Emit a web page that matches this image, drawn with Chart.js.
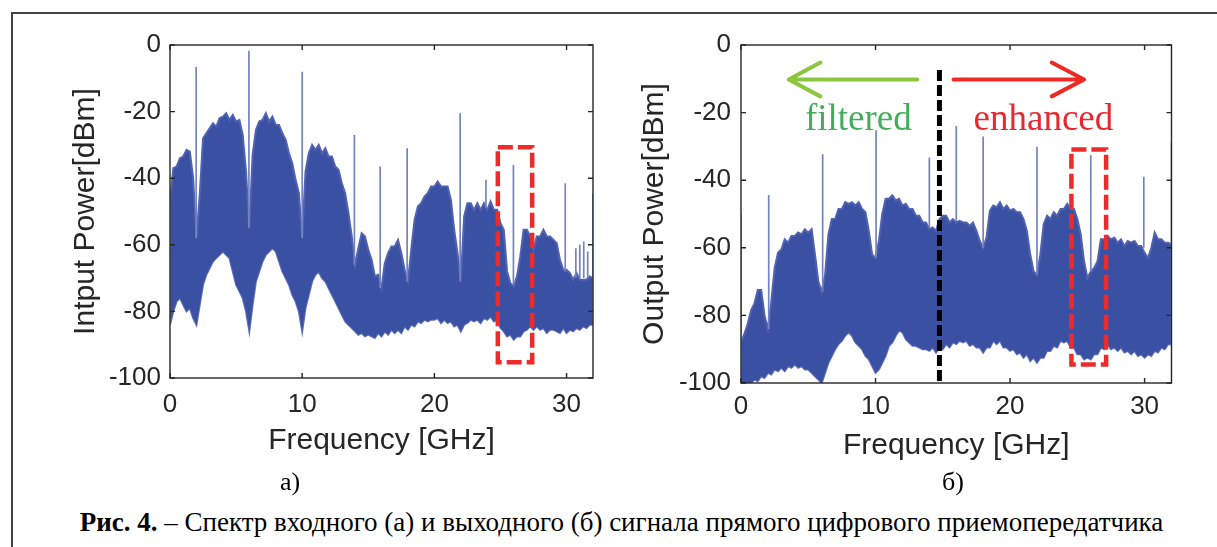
<!DOCTYPE html>
<html>
<head>
<meta charset="utf-8">
<script src="https://cdn.jsdelivr.net/npm/chart.js@4.4.0/dist/chart.umd.min.js"></script>
<style>
  body { margin:0; background:#fff; width:1217px; height:547px; overflow:hidden; position:relative; font-family:'Liberation Serif','Times New Roman',serif; }
  #frame { position:absolute; left:11px; top:12px; width:1300px; height:600px; border-left:2px solid #444; border-top:2px solid #444; }
  #c1 { position:absolute; left:0; top:0; }
  #c2 { position:absolute; left:610px; top:0; }
  .lab { position:absolute; width:100px; text-align:center; font-size:26px; line-height:26px; top:469px; color:#000; }
  #cap { position:absolute; left:0; width:1243px; top:509px; text-align:center; font-size:27px; line-height:26px; color:#000; white-space:nowrap; }
</style>
</head>
<body>
<div id="frame"></div>
<canvas id="c1" width="610" height="470"></canvas>
<canvas id="c2" width="607" height="470"></canvas>
<div class="lab" style="left:240px">а)</div>
<div class="lab" style="left:903px">б)</div>
<div id="cap"><b>Рис. 4.</b> – Спектр входного (а) и выходного (б) сигнала прямого цифрового приемопередатчика</div>
<script>
const freq = [
  0,0.25,0.5,0.75,1,1.25,1.5,1.75,
  2,2.25,2.5,2.75,3,3.25,3.5,3.75,
  4,4.25,4.5,4.75,5,5.25,5.5,5.75,
  6,6.25,6.5,6.75,7,7.25,7.5,7.75,
  8,8.25,8.5,8.75,9,9.25,9.5,9.75,
  10,10.25,10.5,10.75,11,11.25,11.5,11.75,
  12,12.25,12.5,12.75,13,13.25,13.5,13.75,
  14,14.25,14.5,14.75,15,15.25,15.5,15.75,
  16,16.25,16.5,16.75,17,17.25,17.5,17.75,
  18,18.25,18.5,18.75,19,19.25,19.5,19.75,
  20,20.25,20.5,20.75,21,21.25,21.5,21.75,
  22,22.25,22.5,22.75,23,23.25,23.5,23.75,
  24,24.25,24.5,24.75,25,25.25,25.5,25.75,
  26,26.25,26.5,26.75,27,27.25,27.5,27.75,
  28,28.25,28.5,28.75,29,29.25,29.5,29.75,
  30,30.25,30.5,30.75,31,31.25,31.5,31.75,
  32
];

// входной сигнал (а): верхняя и нижняя огибающие, dBm
const inUpper = [
  -47,-37,-36.5,-34,-33.5,-31.5,-32,-40,
  -58,-45,-28,-26.5,-25,-23.5,-24.5,-22,
  -21.5,-20.5,-22.5,-21,-23,-22.5,-27,-38,
  -55,-33,-25.5,-23,-22.5,-20.5,-23,-21.5,
  -24,-24,-26.5,-28.5,-32.5,-35.5,-40.5,-44.5,
  -58,-38,-32.5,-30,-31.5,-30,-32.5,-31,
  -33.5,-33.5,-36.5,-37.5,-41.5,-44.5,-50.5,-57.5,
  -66,-61,-56.5,-57.5,-61.5,-64.5,-69.5,-69,
  -73,-65.5,-62.5,-60.5,-60.5,-58.5,-62.5,-67.5,
  -71,-61.5,-52.5,-48.5,-47.5,-45.5,-44.5,-42.5,
  -42.5,-41,-42.5,-42.5,-42.5,-46.5,-55.5,-62.5,
  -71,-51.5,-47.5,-47.5,-49.5,-47.5,-49.5,-47.5,
  -49.5,-47,-49.5,-49.5,-53.5,-55.5,-68,-71.5,
  -72.5,-69.5,-63.5,-55.5,-55.5,-57.5,-61.5,-57.5,
  -57.5,-55.5,-57.5,-57.5,-58.5,-59.5,-64.5,-67.5,
  -67.5,-68.5,-70.5,-68.5,-70.5,-70.5,-70.5,-69.5,
  -70
];
const inLower = [
  -84,-80,-77,-76,-78,-80,-79,-82,
  -84,-78,-72,-69,-67,-65,-64,-63,
  -62,-63,-64,-68,-72,-74,-76,-80,
  -86,-78,-71,-68,-65,-63,-62,-61,
  -62,-65,-68,-70,-72,-75,-77,-80,
  -86,-79,-75,-71,-69,-68,-70,-71,
  -73,-75,-77,-79,-81,-83,-84,-85,
  -86,-87,-86.5,-87.5,-87,-87.5,-88,-86.5,
  -87.5,-86,-87,-85.5,-86.5,-85.5,-86.5,-84.5,
  -85.5,-84,-84.5,-83,-83.5,-82.5,-83,-82.5,
  -82.5,-82,-83.5,-82.5,-83.5,-83,-84.5,-84,
  -86,-84,-83.5,-82.5,-83,-82.5,-83.5,-82,
  -82.5,-81.5,-83,-82.5,-85,-86,-87.5,-87,
  -88.5,-87.5,-87.5,-86,-85.5,-84.5,-85.5,-84.5,
  -85.5,-85,-86.5,-85.5,-85.5,-86,-86.5,-85,
  -86.5,-85.5,-86,-85,-85.5,-84.5,-85,-84,
  -84
];
const inSpikeFreq = [0, 1.98, 5.97, 10.0, 13.95, 15.9, 17.94, 21.95, 23.9, 25.98, 29.9, 30.7, 31.0, 31.3, 31.6, 32];
const inSpikeTop  = [-47, -6.6, -1.7, -8, -27, -36.5, -31, -20.5, -40.5, -36, -41.5, -61, -60, -59, -62, -44.5];
const inSpikeBase = [-84, -58, -55, -58, -66, -73, -71, -71, -49, -72, -68, -70, -70, -70, -70, -84];
const inBoxFreq = [24.8, 27.4, 27.4, 24.8, 24.8];
const inBoxDb   = [-30.7, -30.7, -95.3, -95.3, -30.7];

// выходной сигнал (б)
const outUpper = [
  -88,-85.5,-82.5,-78.5,-76.5,-72.5,-72.5,-80,
  -84,-76,-66,-61.5,-60.5,-57.5,-58.5,-56.5,
  -56.5,-55.5,-56,-54.5,-55.5,-54.5,-62,-70,
  -73,-68,-56,-51.5,-51.5,-48.5,-48.5,-46.5,
  -47,-46.5,-47.5,-46.5,-48.5,-49.5,-55,-62,
  -63,-58,-50,-45.5,-45.5,-44.5,-46,-45.5,
  -47.5,-47,-48.5,-48.5,-50.5,-50.5,-52.5,-52.5,
  -54.5,-54,-55,-51.5,-50.5,-50.5,-52.5,-51.5,
  -52.5,-52,-52.5,-52.5,-53.5,-52.5,-55,-58,
  -60,-57,-49,-47.5,-48,-46.5,-48.5,-47.5,
  -49,-48.5,-49.5,-49.5,-51.5,-55,-62,-67,
  -68,-62,-53,-50.5,-51.5,-49.5,-50.5,-48.5,
  -48.5,-47,-48.5,-48.5,-51.5,-56,-64,-69,
  -67,-66,-64,-57.5,-57.5,-56.5,-57.5,-57,
  -58.5,-57.5,-59.5,-58,-58.5,-58,-59.5,-59.5,
  -61.5,-63,-60,-55.5,-57.5,-57.5,-58.5,-58.5,
  -59
];
const outLower = [
  -100,-100,-100,-100,-99,-99.5,-98,-98.5,
  -97,-97.5,-96,-96.5,-95.5,-96.5,-95,-95.5,
  -94.5,-95.5,-95,-96,-96,-97,-98,-99,
  -100,-97,-94,-92,-90,-88.5,-87.5,-86,
  -85,-86,-88,-89,-90,-92,-93,-95,
  -97,-96,-94,-92,-89,-88,-86,-84.5,
  -85,-87,-88,-89,-89,-89.5,-90,-90,
  -90.5,-89.5,-91,-89.5,-90,-88.5,-89.5,-88,
  -88.5,-87.5,-88,-87.5,-89,-88.5,-89.5,-89.5,
  -91,-89.5,-89.5,-87.5,-88.5,-87.5,-89.5,-89.5,
  -90.5,-90,-91.5,-91,-92.5,-91.5,-93.5,-92.5,
  -94,-92.5,-92.5,-90.5,-90.5,-89,-89.5,-87.5,
  -88,-87.5,-89.5,-89.5,-91.5,-91.5,-93,-92.5,
  -93,-91.5,-91.5,-89.5,-90,-88.5,-90,-89.5,
  -90.5,-89.5,-91,-90.5,-91.5,-90.5,-92,-91.5,
  -92.5,-91.5,-92,-90.5,-91,-89.5,-90,-88.5,
  -88.5
];
const outSpikeFreq = [0, 2.06, 6.07, 10.04, 14.0, 16.0, 18.0, 22.0, 26.0, 29.94, 32];
const outSpikeTop  = [-50, -44.4, -32.3, -25.2, -33.3, -24.0, -27.1, -30.1, -32.6, -39.0, -29];
const outSpikeBase = [-100, -84, -73, -63, -54, -52, -60, -68, -67, -60, -89];
const outBoxFreq = [24.56, 27.14, 27.14, 24.56, 24.56];
const outBoxDb   = [-30.9, -30.9, -94.5, -94.5, -30.9];
const cutFreq = 14.75;
const cutDb = [-7.4, -100];
// стрелки: [f, dB] — null = разрыв
const greenArrow = [[13.1,-10.2],[3.55,-10.2],[null,null],[5.9,-5.2],[3.55,-10.2],[5.9,-15.2]];
const redArrow   = [[15.8,-10.2],[25.5,-10.2],[null,null],[23.1,-5.2],[25.5,-10.2],[23.1,-15.2]];
const outLabels  = ['filtered', 'enhanced'];
const outLabelF  = [8.72, 22.48];
const outLabelDb = [-25, -25];
const outLabelColor = ['#44ad5c', '#e8282e'];

const xTicks = [0, 10, 20, 30];
const yTicks = [0, -20, -40, -60, -80, -100];

const BLUE = '#3a51a3';
const EDGE = '#5163b0';
const SPIKE = '#7483c2';

function pts(xs, ys) { return xs.map((f, i) => ({x: f, y: ys[i]})); }
function spikePts(fs, top, base) {
  let out = [];
  fs.forEach((f, i) => { out.push({x: f, y: base[i]}, {x: f, y: top[i]}, {x: f, y: null}); });
  return out;
}
function arrowPts(a) { return a.map(p => ({x: p[0], y: p[1]})); }

// — рамка осей и внутренние риски как в MATLAB —
const boxPlugin = {
  id: 'matlabBox',
  afterDatasetsDraw(chart, args, opts) {
    const {ctx, chartArea: a} = chart;
    const x = chart.scales.x, y = chart.scales.y;
    ctx.save();
    (opts.labels || []).forEach(l => {
      ctx.font = '37px "Liberation Serif"';
      ctx.fillStyle = l.color;
      ctx.textAlign = 'center';
      ctx.textBaseline = 'alphabetic';
      ctx.fillText(l.text, x.getPixelForValue(l.f), y.getPixelForValue(l.db));
    });
    ctx.strokeStyle = '#262626';
    ctx.lineWidth = 1.4;
    ctx.strokeRect(a.left, a.top, a.right - a.left, a.bottom - a.top);
    ctx.beginPath();
    x.ticks.forEach(t => {
      const px = x.getPixelForValue(t.value);
      ctx.moveTo(px, a.bottom); ctx.lineTo(px, a.bottom - 5);
      ctx.moveTo(px, a.top); ctx.lineTo(px, a.top + 5);
    });
    y.ticks.forEach(t => {
      const py = y.getPixelForValue(t.value);
      ctx.moveTo(a.left, py); ctx.lineTo(a.left + 5, py);
      ctx.moveTo(a.right, py); ctx.lineTo(a.right - 5, py);
    });
    ctx.stroke();
    ctx.restore();
  }
};

function makeScales(o) {
  return {
    x: {
      type: 'linear', min: 0, max: 32,
      afterBuildTicks: s => { s.ticks = xTicks.map(v => ({value: v})); },
      afterFit: s => { s.height = o.xh; },
      grid: {display: false, drawTicks: false},
      border: {display: false},
      ticks: {color: '#262626', font: {family: 'Liberation Sans', size: 26}, padding: o.xp, maxRotation: 0, autoSkip: false},
      title: {display: true, text: 'Frequency [GHz]', color: '#262626',
              font: {family: 'Liberation Sans', size: 30}, padding: {top: 0, bottom: o.xtp}}
    },
    y: {
      type: 'linear', min: -100, max: 0,
      afterBuildTicks: s => { s.ticks = yTicks.map(v => ({value: v})); },
      afterFit: s => { s.width = o.yw; },
      grid: {display: false, drawTicks: false},
      border: {display: false},
      ticks: {color: '#262626', font: {family: 'Liberation Sans', size: 26}, padding: o.yp, autoSkip: false},
      title: {display: true, text: o.ytitle, color: '#262626',
              font: {family: 'Liberation Sans', size: 30}, padding: {top: o.ytp, bottom: 0}}
    }
  };
}

const lineBase = {pointRadius: 0, tension: 0, fill: false};

// — (а) входной спектр —
new Chart(document.getElementById('c1'), {
  type: 'line',
  data: {
    datasets: [
      Object.assign({}, lineBase, {data: pts(inBoxFreq, inBoxDb), borderColor: '#ee2b2b', borderWidth: 4.5, borderDash: [15, 5]}),
      Object.assign({}, lineBase, {data: spikePts(inSpikeFreq, inSpikeTop, inSpikeBase), borderColor: SPIKE, borderWidth: 1.7}),
      Object.assign({}, lineBase, {data: pts(freq, inUpper), borderColor: EDGE, borderWidth: 2, fill: '+1', backgroundColor: BLUE}),
      Object.assign({}, lineBase, {data: pts(freq, inLower), borderColor: '#6272b8', borderWidth: 2})
    ]
  },
  options: {
    responsive: false, animation: false,
    layout: {padding: {top: 45, right: 17, bottom: 0, left: 0}},
    plugins: {legend: {display: false}, tooltip: {enabled: false}, matlabBox: {}},
    scales: makeScales({xh: 92, xp: 11, xtp: 11, yw: 170, yp: 9, ytp: 68, ytitle: 'Intput Power[dBm]'})
  },
  plugins: [boxPlugin]
});

// — (б) выходной спектр —
new Chart(document.getElementById('c2'), {
  type: 'line',
  data: {
    datasets: [
      Object.assign({}, lineBase, {data: pts(outBoxFreq, outBoxDb), borderColor: '#ee2b2b', borderWidth: 4.5, borderDash: [15, 5]}),
      Object.assign({}, lineBase, {data: [{x: cutFreq, y: cutDb[0]}, {x: cutFreq, y: cutDb[1]}], borderColor: '#000', borderWidth: 5, borderDash: [11, 4]}),
      Object.assign({}, lineBase, {data: arrowPts(greenArrow), borderColor: '#8cc63f', borderWidth: 4, borderCapStyle: 'round', borderJoinStyle: 'round'}),
      Object.assign({}, lineBase, {data: arrowPts(redArrow), borderColor: '#ee2a24', borderWidth: 4, borderCapStyle: 'round', borderJoinStyle: 'round'}),
      Object.assign({}, lineBase, {data: spikePts(outSpikeFreq, outSpikeTop, outSpikeBase), borderColor: SPIKE, borderWidth: 1.7}),
      Object.assign({}, lineBase, {data: pts(freq, outUpper), borderColor: EDGE, borderWidth: 2, fill: '+1', backgroundColor: BLUE}),
      Object.assign({}, lineBase, {data: pts(freq, outLower), borderColor: '#6272b8', borderWidth: 2})
    ]
  },
  options: {
    responsive: false, animation: false,
    layout: {padding: {top: 45, right: 45.5, bottom: 0, left: 0}},
    plugins: {
      legend: {display: false}, tooltip: {enabled: false},
      matlabBox: {labels: outLabels.map((t, i) => ({text: t, f: outLabelF[i], db: outLabelDb[i], color: outLabelColor[i]}))}
    },
    scales: makeScales({xh: 87, xp: 8.5, xtp: 6, yw: 131, yp: 10, ytp: 27, ytitle: 'Output Power[dBm]'})
  },
  plugins: [boxPlugin]
});
</script>
</body>
</html>
